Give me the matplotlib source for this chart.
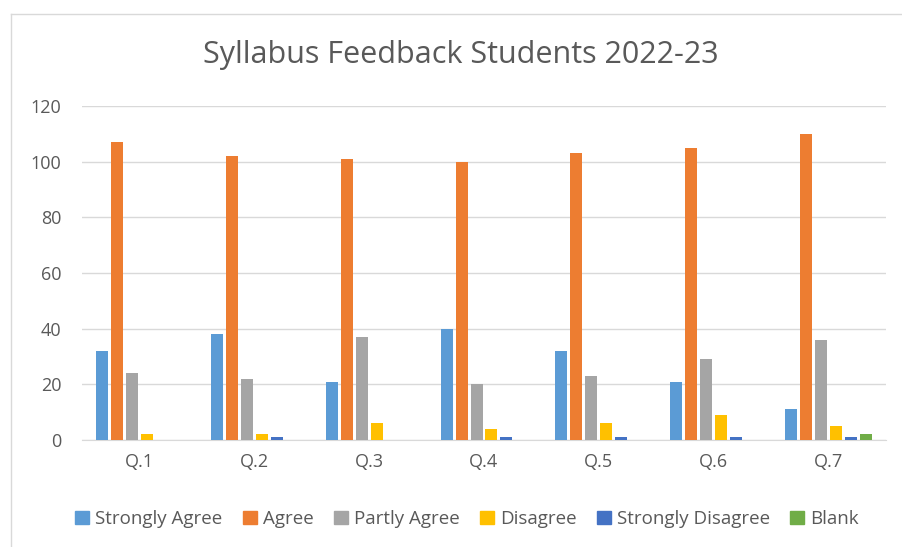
import matplotlib.pyplot as plt
import numpy as np
from matplotlib.patches import Rectangle
from matplotlib.lines import Line2D

questions = ["Q.1", "Q.2", "Q.3", "Q.4", "Q.5", "Q.6", "Q.7"]
series_names = ["Strongly Agree", "Agree", "Partly Agree", "Disagree",
                "Strongly Disagree", "Blank"]
strongly_agree = [32, 38, 21, 40, 32, 21, 11]
agree = [107, 102, 101, 100, 103, 105, 110]
partly_agree = [24, 22, 37, 20, 23, 29, 36]
disagree = [2, 2, 6, 4, 6, 9, 5]
strongly_disagree = [0, 1, 0, 1, 1, 1, 1]
blank = [0, 0, 0, 0, 0, 0, 2]
colors = ["#5B9BD5", "#ED7D31", "#A5A5A5", "#FFC000", "#4472C4", "#70AD47"]

plt.rcParams['font.family'] = ['Open Sans', 'DejaVu Sans']
text_color = "#595959"

fig = plt.figure(figsize=(9.02, 5.47), dpi=100)
W, H = 902, 547
ax = fig.add_axes([82 / W, 1 - 440 / H, (886 - 82) / W, (440 - 106) / H])

# chart border (left and top only visible)
fig.add_artist(Line2D([11 / W, 11 / W], [0, 1 - 14 / H], transform=fig.transFigure,
                      color="#D9D9D9", lw=1))
fig.add_artist(Line2D([11 / W, 1], [1 - 14 / H, 1 - 14 / H], transform=fig.transFigure,
                      color="#D9D9D9", lw=1))

data = [strongly_agree, agree, partly_agree, disagree, strongly_disagree, blank]
x = np.arange(len(questions))
slot = 15 / 114.86
width = 12 / 114.86
for i, (vals, c) in enumerate(zip(data, colors)):
    ax.bar(x + (i - 2.5) * slot, vals, width=width, color=c, zorder=3)

ax.set_xlim(-0.5, len(questions) - 0.5)
ax.set_ylim(0, 120)
ax.set_yticks(np.arange(0, 121, 20))
ax.set_xticks(x)
ax.set_xticklabels(questions)
ax.grid(axis='y', color="#D9D9D9", lw=1, zorder=0)
for s in ["top", "right", "left"]:
    ax.spines[s].set_visible(False)
ax.spines["bottom"].set_color("#D9D9D9")
ax.tick_params(axis='both', length=0, colors=text_color, labelsize=13)
ax.tick_params(axis='y', pad=15)
ax.tick_params(axis='x', pad=9)

fig.text(461 / W, 1 - 55 / H, "Syllabus Feedback Students 2022-23", ha='center',
         va='center', fontsize=22, color=text_color)

handles = [Rectangle((0, 0), 1, 1, color=c) for c in colors]
fig.legend(handles, series_names, loc='center', bbox_to_anchor=(467 / W, 1 - 519 / H),
           ncol=6, frameon=False, fontsize=13.5, labelcolor=text_color,
           handlelength=0.75, handleheight=0.75, handletextpad=0.3, columnspacing=1.1)

fig.savefig("out.png", dpi=100)
